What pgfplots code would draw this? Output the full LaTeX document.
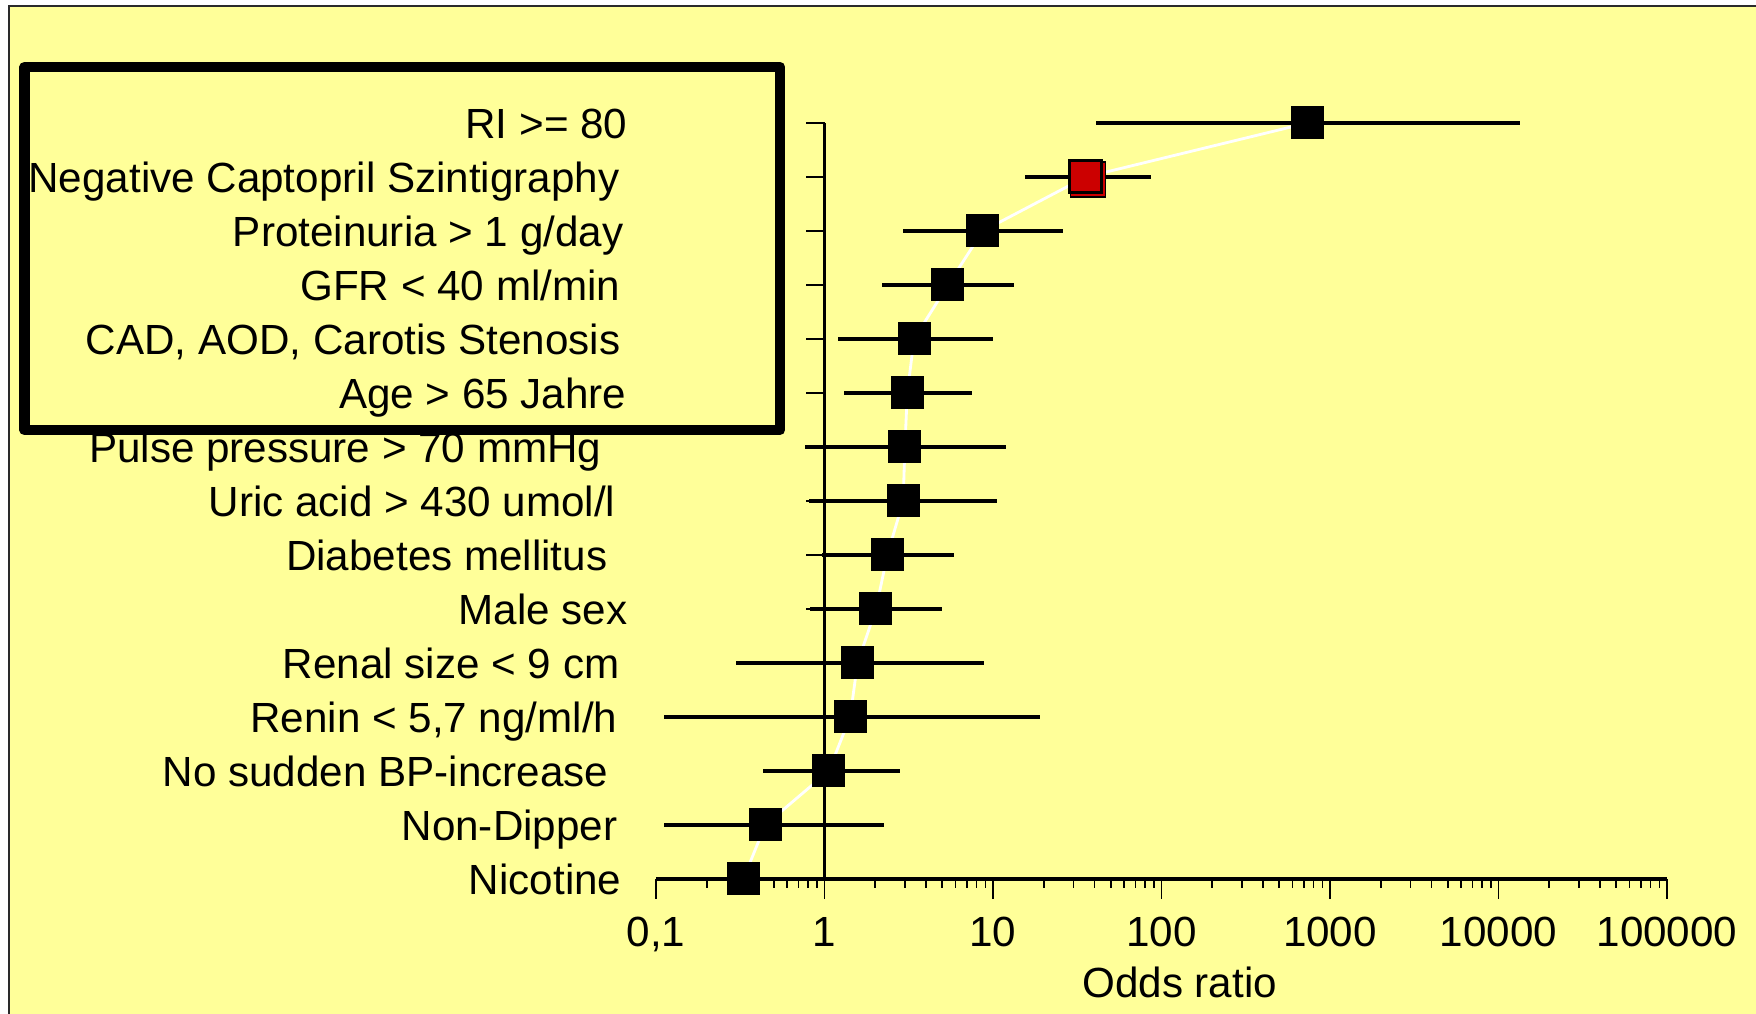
\documentclass[border=0pt]{standalone}
\usepackage{pgfplots}
\pgfplotsset{compat=1.18}
\usepackage{pgfplotstable}
\usepackage{fontspec}
\setmainfont{Liberation Sans}

\definecolor{chartyellow}{HTML}{FFFF99}
\definecolor{markred}{HTML}{CC0000}
\definecolor{framegray}{HTML}{2A2A2A}

% row, odds ratio, lower and upper limit of the confidence interval
\pgfplotstableread{
row or    lo    hi
15  735   41    13500
14  35.5  15.5  87
13  8.7   2.92  26
12  5.4   2.19  13.3
11  3.4   1.2   10
10  3.1   1.3   7.5
9   3.0   0.77  12
8   2.93  0.81  10.5
7   2.36  0.97  5.9
6   2.02  0.82  4.95
5   1.57  0.30  8.8
4   1.42  0.111 19
3   1.06  0.43  2.8
2   0.445 0.111 2.26
1   0.33  0.12  0.9
}\oddsdata

\begin{document}
\begin{tikzpicture}
\path[use as bounding box] (0,0) rectangle (17.56,10.14);
\fill[white] (0,0) rectangle (17.56,10.14);
\fill[chartyellow] (0.085,0) rectangle (17.56,10.075);
\draw[framegray, line width=0.2mm] (0.085,0) -- (0.085,10.075) -- (17.56,10.075);

\begin{axis}[
  at={(6.56cm,1.35cm)}, anchor=south west,
  scale only axis, width=10.11cm, height=7.56cm,
  xmode=log, xmin=0.1, xmax=100000, ymin=1, ymax=15,
  clip=false,
  axis x line*=bottom, axis y line*=left,
  y axis line style={draw=none},
  x axis line style={line width=1.1pt},
  ytick={1,...,15},
  ytick style={draw=none},
  yticklabels={
    {Nicotine\kern0.6mm},
    {Non-Dipper\kern1mm},
    {No sudden BP-increase\kern1.9mm},
    {Renin < 5,7 ng/ml/h\kern1mm},
    {Renal size < 9 cm\kern0.8mm},
    {Male sex},
    {Diabetes mellitus\kern2mm},
    {Uric acid > 430 umol/l\kern1.2mm},
    {Pulse pressure > 70 mmHg\kern2.6mm},
    {Age > 65 Jahre\kern0.1mm},
    {CAD, AOD, Carotis Stenosis\kern0.7mm},
    {GFR < 40 ml/min\kern0.7mm},
    {Proteinuria > 1 g/day\kern0.4mm},
    {Negative Captopril Szintigraphy\kern0.8mm},
    {RI >= 80}},
  yticklabel style={anchor=base east, inner sep=0pt, xshift=-2.8mm, yshift=-1.6mm},
  xtick={0.1,1,10,100,1000,10000,100000},
  xticklabels={{0,1},1,10,100,1000,10000,100000},
  minor xtick={0.2,0.3,0.4,0.5,0.6,0.7,0.8,0.9,
    2,3,4,5,6,7,8,9,20,30,40,50,60,70,80,90,
    200,300,400,500,600,700,800,900,
    2000,3000,4000,5000,6000,7000,8000,9000,
    20000,30000,40000,50000,60000,70000,80000,90000},
  xtick align=outside,
  major tick length=2mm, minor tick length=0.9mm,
  xtick style={line width=0.45pt, black},
  xticklabel style={anchor=base, inner sep=0pt, yshift=-4.75mm},
  xlabel={Odds ratio},
  xlabel style={at={(axis description cs:0.518,0)}, anchor=base, inner sep=0pt, yshift=-11.9mm},
  every tick label/.append style={font=\fontsize{12}{14}\selectfont},
  label style={font=\fontsize{12}{14}\selectfont},
]
% vertical reference line at odds ratio 1 with its row ticks
\draw[line width=0.9pt] (axis cs:1,1) -- (axis cs:1,15);
\pgfplotsinvokeforeach{1,...,15}{\draw[line width=0.55pt] (axis cs:1,#1) -- ([xshift=-1.9mm]axis cs:1,#1);}

% confidence intervals
\addplot[draw=none, mark=none,
  error bars/.cd, x dir=both, x explicit, error mark=none,
  error bar style={draw=black, line width=1pt}]
  table[x=or, y=row,
    x error plus expr=\thisrow{hi}-\thisrow{or},
    x error minus expr=\thisrow{or}-\thisrow{lo}] {\oddsdata};

% line through the point estimates
\addplot[white, line width=0.8pt, mark=none] table[x=or, y=row] {\oddsdata};

% point estimates
\addplot[only marks, mark=square*, mark size=1.6mm,
  mark options={fill=black, draw=black, line width=0pt}]
  table[x=or, y=row] {\oddsdata};

% highlighted estimate with its offset red edge
\addplot[only marks, mark=square*, mark size=1.75mm,
  mark options={fill=markred, draw=none, xshift=0.25mm, yshift=-0.25mm}]
  coordinates {(35.5,14)};
\addplot[only marks, mark=square*, mark size=1.6mm,
  mark options={fill=markred, draw=black, line width=0.85pt}]
  coordinates {(35.5,14)};
\end{axis}

% frame around the upper block of factors
\draw[line width=1.05mm, line join=round] (0.245,9.47) rectangle (7.80,5.84);
\end{tikzpicture}
\end{document}
